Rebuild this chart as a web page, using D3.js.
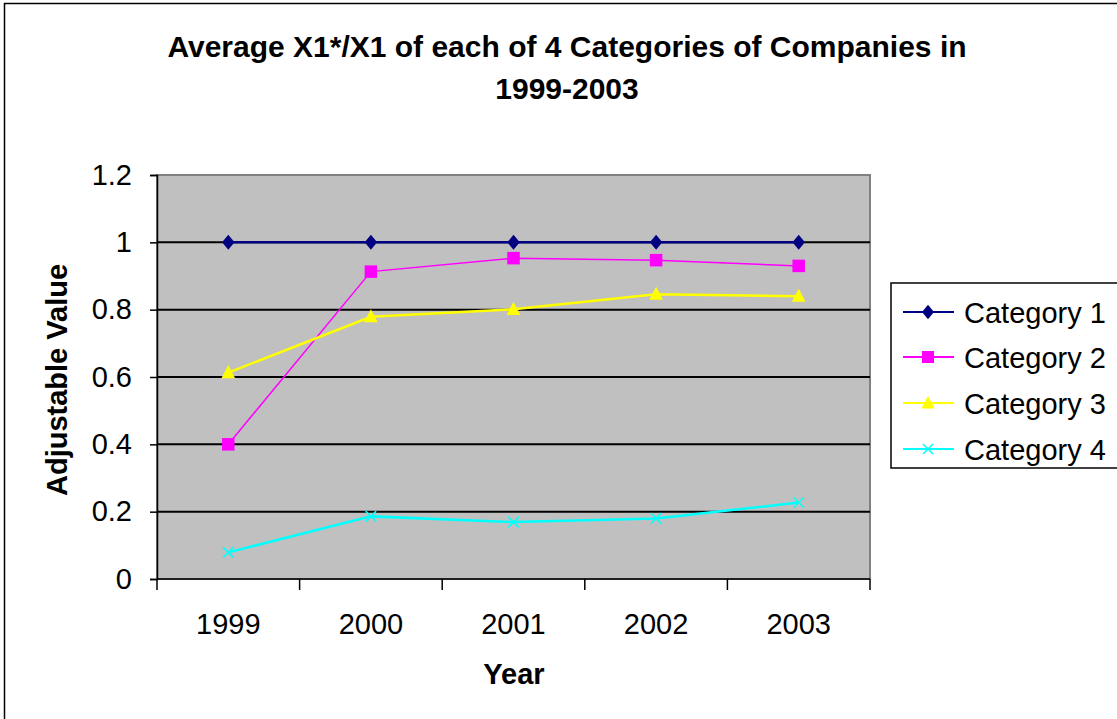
<!DOCTYPE html>
<html>
<head>
<meta charset="utf-8">
<script src="https://cdn.jsdelivr.net/npm/d3@7/dist/d3.min.js"></script>
<style>
  html, body { margin: 0; padding: 0; background: #fff; }
  svg { display: block; font-family: "Liberation Sans", Arial, sans-serif; }
</style>
</head>
<body>
<svg id="chart" width="1117" height="719"></svg>
<script>
// Years on the category axis
const years = ["1999", "2000", "2001", "2002", "2003"];
// Average X1*/X1 per company category
const category1 = [1.0, 1.0, 1.0, 1.0, 1.0];
const category2 = [0.40, 0.913, 0.953, 0.947, 0.93];
const category3 = [0.613, 0.779, 0.801, 0.846, 0.84];
const category4 = [0.079, 0.186, 0.169, 0.18, 0.227];
const seriesNames = ["Category 1", "Category 2", "Category 3", "Category 4"];
const yTicks = [0, 0.2, 0.4, 0.6, 0.8, 1, 1.2];

const series = [
  { name: seriesNames[0], values: category1, color: "#000080", marker: "diamond", width: 2.5 },
  { name: seriesNames[1], values: category2, color: "#ff00ff", marker: "square", width: 1.5 },
  { name: seriesNames[2], values: category3, color: "#ffff00", marker: "triangle", width: 2.5 },
  { name: seriesNames[3], values: category4, color: "#00ffff", marker: "x", width: 2.5 }
];

const svg = d3.select("#chart");

// Outer chart frame
svg.append("rect").attr("x", 4.5).attr("y", 3.5).attr("width", 1120).attr("height", 720)
  .attr("fill", "#fff").attr("stroke", "#000").attr("stroke-width", 1.5);

const plot = { left: 157, right: 870, top: 175, bottom: 579 };

const x = d3.scaleBand().domain(years).range([plot.left, plot.right]);
const y = d3.scaleLinear().domain([0, 1.2]).range([plot.bottom, plot.top]);

// Plot area background
svg.append("rect").attr("x", plot.left).attr("y", plot.top)
  .attr("width", plot.right - plot.left).attr("height", plot.bottom - plot.top)
  .attr("fill", "#c0c0c0").attr("stroke", "#808080").attr("stroke-width", 2);

// Horizontal gridlines
svg.append("g").selectAll("line").data(yTicks.filter(d => d > 0 && d < 1.2)).join("line")
  .attr("x1", plot.left).attr("x2", plot.right)
  .attr("y1", d => y(d)).attr("y2", d => y(d))
  .attr("stroke", "#000").attr("stroke-width", 2);

// Y axis
const yAxis = svg.append("g").attr("transform", `translate(${plot.left},0)`)
  .call(d3.axisLeft(y).tickValues(yTicks).tickFormat(d3.format("")).tickSize(7).tickPadding(18));
yAxis.select(".domain").attr("stroke", "#000").attr("stroke-width", 1.5);
yAxis.selectAll(".tick line").attr("stroke", "#000").attr("stroke-width", 1.5);
yAxis.selectAll(".tick text").attr("font-size", 29).attr("fill", "#000")
  .attr("font-family", "Liberation Sans, Arial, sans-serif");

// X axis: ticks sit between categories
const xAxis = svg.append("g").attr("transform", `translate(0,${plot.bottom})`);
xAxis.append("line").attr("x1", plot.left).attr("x2", plot.right).attr("y1", 0).attr("y2", 0)
  .attr("stroke", "#000").attr("stroke-width", 1.5);
const bounds = years.map(d => x(d)).concat([plot.right]);
xAxis.selectAll("line.tk").data(bounds).join("line").attr("class", "tk")
  .attr("x1", d => d).attr("x2", d => d).attr("y1", 0).attr("y2", 11)
  .attr("stroke", "#000").attr("stroke-width", 1.5);
xAxis.selectAll("text").data(years).join("text")
  .attr("x", d => x(d) + x.bandwidth() / 2).attr("y", 55)
  .attr("text-anchor", "middle").attr("font-size", 29).text(d => d);

// Series lines and markers
const line = d3.line().x((d, i) => x(years[i]) + x.bandwidth() / 2).y(d => y(d));

function drawMarker(g, type, color, size) {
  if (type === "diamond") {
    g.append("path").attr("d", `M0,${-size * 0.6}L${size * 0.5},0L0,${size * 0.6}L${-size * 0.5},0Z`).attr("fill", color);
  } else if (type === "square") {
    g.append("rect").attr("x", -size / 2).attr("y", -size / 2).attr("width", size).attr("height", size).attr("fill", color);
  } else if (type === "triangle") {
    g.append("path").attr("d", `M0,${-size * 0.6}L${size * 0.55},${size * 0.45}L${-size * 0.55},${size * 0.45}Z`).attr("fill", color);
  } else {
    const h = size / 2 - 1;
    g.append("path").attr("d", `M${-h},${-h}L${h},${h}M${-h},${h}L${h},${-h}`)
      .attr("stroke", color).attr("stroke-width", 1.5).attr("fill", "none");
  }
}

series.forEach(s => {
  svg.append("path").datum(s.values).attr("d", line)
    .attr("fill", "none").attr("stroke", s.color).attr("stroke-width", s.width);
  s.values.forEach((v, i) => {
    const g = svg.append("g")
      .attr("transform", `translate(${x(years[i]) + x.bandwidth() / 2},${y(v)})`);
    drawMarker(g, s.marker, s.color, 12.5);
  });
});

// Title
const title = svg.append("text").attr("text-anchor", "middle").attr("font-weight", "bold")
  .attr("font-size", 30).attr("fill", "#000");
title.append("tspan").attr("x", 567).attr("y", 57).text("Average X1*/X1 of each of 4 Categories of Companies in");
title.append("tspan").attr("x", 567).attr("y", 99).text("1999-2003");

// Axis titles
svg.append("text").attr("x", 514).attr("y", 684).attr("text-anchor", "middle")
  .attr("font-weight", "bold").attr("font-size", 29).text("Year");
svg.append("text").attr("transform", "translate(67,380) rotate(-90)").attr("text-anchor", "middle")
  .attr("font-weight", "bold").attr("font-size", 29).text("Adjustable Value");

// Legend
const legend = svg.append("g");
legend.append("rect").attr("x", 891).attr("y", 283).attr("width", 240).attr("height", 185)
  .attr("fill", "#fff").attr("stroke", "#000").attr("stroke-width", 1.5);
const legendY = [312, 357, 403, 449];
series.forEach((s, i) => {
  const g = legend.append("g").attr("transform", `translate(0,${legendY[i]})`);
  g.append("line").attr("x1", 903).attr("x2", 954).attr("y1", 0).attr("y2", 0)
    .attr("stroke", s.color).attr("stroke-width", 2);
  const m = g.append("g").attr("transform", "translate(928,0)");
  drawMarker(m, s.marker, s.color, 12);
  g.append("text").attr("x", 964).attr("y", 10.5).attr("font-size", 29).text(s.name);
});
</script>
</body>
</html>
